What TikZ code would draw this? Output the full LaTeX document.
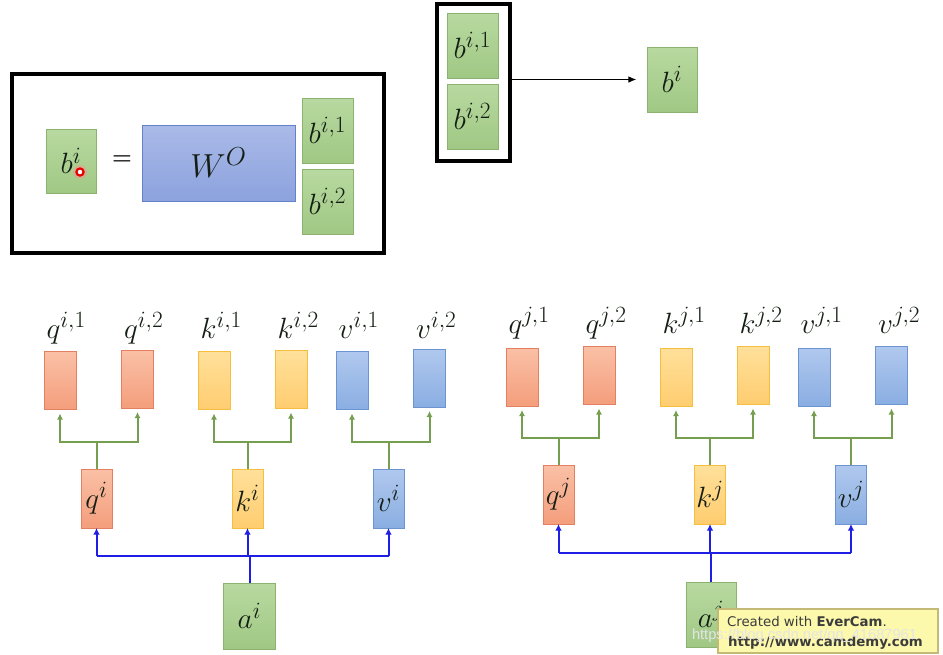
\RequirePackage{fix-cm}
\documentclass[tikz,border=0pt]{standalone}
\usepackage{fontspec}
\newfontfamily\evfont{DejaVu Sans}
\newfontfamily\csfont{Liberation Sans}
\usetikzlibrary{arrows.meta}
\DeclareMathSizes{22}{22}{17.5}{13}
\DeclareMathSizes{25}{25}{19.5}{14}
\definecolor{gtop}{RGB}{184,217,160}
\definecolor{gbot}{RGB}{160,200,132}
\definecolor{gbrd}{RGB}{140,178,112}
\definecolor{otop}{RGB}{250,192,166}
\definecolor{obot}{RGB}{244,158,124}
\definecolor{obrd}{RGB}{228,128,98}
\definecolor{ytop}{RGB}{255,224,154}
\definecolor{ybot}{RGB}{255,205,112}
\definecolor{ybrd}{RGB}{246,190,62}
\definecolor{btop}{RGB}{176,200,238}
\definecolor{bbot}{RGB}{138,174,226}
\definecolor{bbrd}{RGB}{108,148,210}
\definecolor{wtop}{RGB}{170,186,232}
\definecolor{wbot}{RGB}{140,162,222}
\definecolor{wbrd}{RGB}{100,130,200}
\definecolor{garr}{RGB}{118,158,80}
\definecolor{barr}{RGB}{30,30,228}
\definecolor{evfill}{RGB}{252,248,172}
\definecolor{evbrd}{RGB}{196,186,120}
\definecolor{evtext}{RGB}{60,60,60}
\definecolor{ink}{RGB}{20,30,20}
\begin{document}
\begin{tikzpicture}[x=0.75pt,y=-0.75pt,
  every node/.style={inner sep=0pt,outer sep=0pt},
  txt/.style={font=\fontsize{22}{26}\selectfont,text=ink},
  gbox/.style={txt,draw=gbrd,top color=gtop,bottom color=gbot,minimum width=38.25pt,minimum height=48.75pt},
  abox/.style={gbox,minimum width=39pt,minimum height=49.5pt},
  obox/.style={draw=obrd,top color=otop,bottom color=obot,minimum width=24pt,minimum height=43.5pt},
  ybox/.style={draw=ybrd,top color=ytop,bottom color=ybot,minimum width=24pt,minimum height=43.5pt},
  bbox/.style={draw=bbrd,top color=btop,bottom color=bbot,minimum width=24pt,minimum height=43.5pt},
  omid/.style={obox,txt,minimum width=23.25pt,minimum height=44.25pt},
  ymid/.style={ybox,txt,minimum width=23.25pt,minimum height=44.25pt},
  bmid/.style={bbox,txt,minimum width=23.25pt,minimum height=44.25pt},
  lab/.style={txt,anchor=base west,xshift=2pt},
  frame/.style={draw=black,fill=none},
  garrow/.style={draw=garr,line width=1.5pt},
  gtip/.style={garrow,-{Latex[length=4.5pt,width=4.5pt]},shorten >=3pt},
  barrow/.style={draw=barr,line width=1.5pt},
  btip/.style={barrow,-{Latex[length=5pt,width=5pt]}}
]
\useasboundingbox (0,0) rectangle (943,654);

% ---------- left equation box ----------
\node[frame,line width=2.4pt,minimum width=279pt,minimum height=134.25pt] (eqframe) at (198,163.5) {};
\node[gbox,minimum width=37.5pt,minimum height=48pt] (bL) at (71,161) {$b^{i}$};
\fill[red!45,opacity=0.45] (80,172) circle (7);
\draw[red!90!black,line width=1.6pt,fill=white] (80,172) circle (3.6);
\node[font=\fontsize{17}{20}\selectfont\bfseries] (eq) at (122,160) {=};
\node[draw=wbrd,top color=wtop,bottom color=wbot,minimum width=114.75pt,minimum height=57pt,font=\fontsize{25}{30}\selectfont,text=ink] (W) at (218.5,163) {$W^{O}$};
\node[gbox] (bL1) at (327.5,130.5) {$b^{i,1}$};
\node[gbox] (bL2) at (327.5,201.5) {$b^{i,2}$};

% ---------- top concat ----------
\node[frame,line width=3pt,minimum width=54.75pt,minimum height=117.75pt] (cframe) at (473.5,82.5) {};
\node[gbox] (bT1) at (472.5,45.5) {$b^{i,1}$};
\node[gbox] (bT2) at (472.5,116.5) {$b^{i,2}$};
\node[gbox,minimum width=37.5pt] (bT) at (672,79.5) {$b^{i}$};
\draw[line width=0.9pt,-{Latex[length=6pt,width=5pt]},shorten >=8pt] (cframe.east |- bT.west) -- (bT.west);

% ---------- left multi-head group ----------
\node[obox] (qi1) at (60,380.5) {};
\node[obox] (qi2) at (137.5,379) {};
\node[ybox] (ki1) at (214,380.5) {};
\node[ybox] (ki2) at (291,379.5) {};
\node[bbox] (vi1) at (352,380.5) {};
\node[bbox] (vi2) at (429.5,378) {};
\node[lab] (lqi1) at (qi1.west |- 0,338) {$q^{i,1}$};
\node[lab] (lqi2) at (qi2.west |- 0,338) {$q^{i,2}$};
\node[lab] (lki1) at (ki1.west |- 0,338) {$k^{i,1}$};
\node[lab] (lki2) at (ki2.west |- 0,338) {$k^{i,2}$};
\node[lab] (lvi1) at (vi1.west |- 0,338) {$v^{i,1}$};
\node[lab] (lvi2) at (vi2.west |- 0,338) {$v^{i,2}$};
\node[omid] (qi) at (96.5,498.5) {$q^{i}$};
\node[ymid] (ki) at (247.5,498.5) {$k^{i}$};
\node[bmid] (vi) at (388.5,498.5) {$v^{i}$};
\node[abox] (ai) at (249.5,616) {$a^{i}$};

\foreach \m/\a/\b in {qi/qi1/qi2,ki/ki1/ki2,vi/vi1/vi2}{
  \coordinate (\m s) at (\m.north |- 0,442);
  \draw[garrow] (\m.north) -- (\m s);
  \draw[gtip] (\m s) -| (\a.south);
  \draw[gtip] (\m s) -| (\b.south);
}
\coordinate (bli) at (0,556);
\draw[barrow] (qi.south |- bli) -- (vi.south |- bli);
\draw[barrow] (ai.north) -- (ai.north |- bli);
\draw[btip] (qi.south |- bli) -- (qi.south);
\draw[btip] (ki.south |- bli) -- (ki.south);
\draw[btip] (vi.south |- bli) -- (vi.south);

% ---------- right multi-head group ----------
\node[obox] (qj1) at (522,377) {};
\node[obox] (qj2) at (599,375.5) {};
\node[ybox] (kj1) at (676,377) {};
\node[ybox] (kj2) at (753,375.5) {};
\node[bbox] (vj1) at (814,377) {};
\node[bbox] (vj2) at (891.5,375.5) {};
\node[lab] (lqj1) at (qj1.west |- 0,333) {$q^{j,1}$};
\node[lab] (lqj2) at (qj2.west |- 0,333) {$q^{j,2}$};
\node[lab] (lkj1) at (kj1.west |- 0,333) {$k^{j,1}$};
\node[lab] (lkj2) at (kj2.west |- 0,333) {$k^{j,2}$};
\node[lab] (lvj1) at (vj1.west |- 0,333) {$v^{j,1}$};
\node[lab] (lvj2) at (vj2.west |- 0,333) {$v^{j,2}$};
\node[omid] (qj) at (558.5,494.5) {$q^{j}$};
\node[ymid] (kj) at (710,494.5) {$k^{j}$};
\node[bmid] (vj) at (851,494.5) {$v^{j}$};
\node[gbox,minimum width=37.5pt] (aj) at (711,614.5) {$a^{j}$};

\foreach \m/\a/\b in {qj/qj1/qj2,kj/kj1/kj2,vj/vj1/vj2}{
  \coordinate (\m s) at (\m.north |- 0,438);
  \draw[garrow] (\m.north) -- (\m s);
  \draw[gtip] (\m s) -| (\a.south);
  \draw[gtip] (\m s) -| (\b.south);
}
\coordinate (blj) at (0,553);
\draw[barrow] (qj.south |- blj) -- (vj.south |- blj);
\draw[barrow] (aj.north) -- (aj.north |- blj);
\draw[btip] (qj.south |- blj) -- (qj.south);
\draw[btip] (kj.south |- blj) -- (kj.south);
\draw[btip] (vj.south |- blj) -- (vj.south);

% ---------- watermark ----------
\node[draw=evbrd,fill=evfill,line width=0.8pt,minimum width=165pt,minimum height=33pt] (ev) at (828,631) {};
\node[anchor=base west,font=\evfont\fontsize{10}{12}\selectfont,text=evtext] (ev1) at (727,626) {Created with \textbf{EverCam}.};
\node[anchor=base west,font=\evfont\fontsize{10}{12}\selectfont\bfseries,text=evtext] (ev2) at (728,646) {http://www.camdemy.com};
\node[anchor=base west,font=\csfont\fontsize{11}{13}\selectfont,text=white!80!gray] (cs) at (692,639) {https://blog.csdn.net/qq\_41687961};
\end{tikzpicture}
\end{document}
